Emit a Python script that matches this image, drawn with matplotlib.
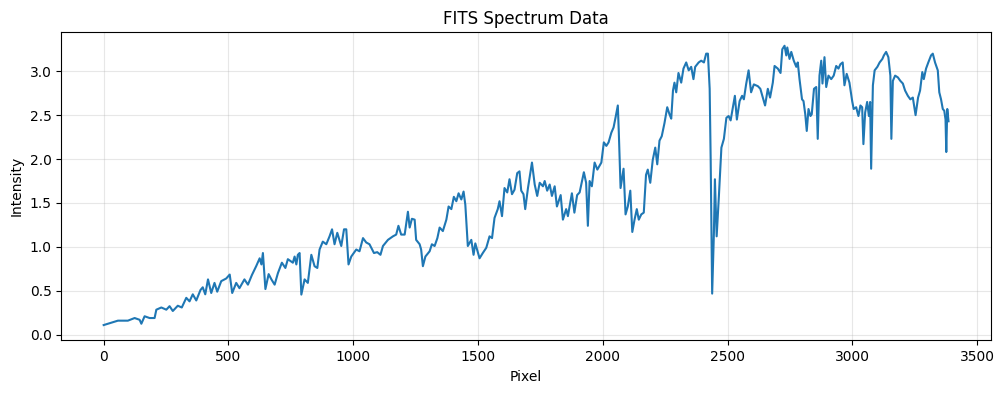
import matplotlib
matplotlib.use("Agg")
import matplotlib.pyplot as plt
import numpy as np

pixel = [0, 57, 97, 124, 144, 151, 164, 184, 204, 211, 231, 251, 264, 277, 297, 313, 331, 344, 357, 371,
         388, 397, 407, 418, 431, 444, 455, 471, 491, 505, 515, 531, 544, 564,
         578, 594, 611, 625, 632, 638, 648, 661, 672, 685, 698, 714, 728, 738, 758, 765, 772, 778, 785,
         792, 805, 818, 832, 845, 856, 865, 878, 892, 905, 915, 925, 936, 952, 963, 972, 981, 992,
         1012, 1025, 1039, 1052, 1065, 1083, 1096, 1109, 1119, 1139, 1159, 1172,
         1181, 1192, 1206, 1219, 1226, 1235, 1246, 1252, 1266, 1272, 1279, 1289, 1306, 1315, 1326, 1337,
         1346, 1359, 1373, 1382, 1393, 1403, 1413, 1422, 1433, 1442, 1449, 1459, 1473, 1482, 1489, 1506,
         1519, 1533, 1546, 1556, 1566, 1579, 1586, 1596, 1606, 1617, 1626, 1636, 1646, 1657, 1666, 1673,
         1682, 1689, 1700, 1716, 1727, 1737, 1747, 1760, 1767,
         1777, 1787, 1796, 1807, 1816, 1831, 1840, 1853, 1860, 1876, 1886, 1897, 1907, 1924, 1933, 1940,
         1947, 1956, 1967, 1978, 1994, 2004, 2014, 2023, 2034, 2043, 2050, 2060, 2064, 2071, 2083, 2091,
         2100, 2110, 2118, 2127, 2136, 2144, 2154, 2164, 2173, 2180, 2190, 2200, 2210, 2218, 2227, 2236,
         2247, 2258, 2267, 2274, 2281,
         2287, 2294, 2303, 2314, 2323, 2334, 2344, 2354, 2363, 2370, 2384, 2394, 2405, 2414, 2421, 2428,
         2432, 2438, 2445, 2449, 2456, 2465, 2475, 2485, 2495, 2504, 2512, 2521, 2529, 2537, 2548, 2558,
         2565, 2574, 2584, 2594, 2605, 2621, 2631, 2641, 2650, 2661, 2670, 2681, 2688, 2701, 2712, 2719,
         2728, 2735, 2739, 2748, 2755, 2765, 2775, 2781, 2788, 2798, 2804, 2811, 2817, 2824, 2832, 2837,
         2846, 2855, 2861, 2868, 2875, 2880, 2888, 2895, 2904, 2915, 2925, 2935, 2944, 2952, 2961, 2968,
         2977, 2988, 2999, 3005, 3015, 3024, 3032, 3039, 3044, 3051, 3059, 3066, 3071, 3075, 3082, 3089,
         3100, 3109, 3120, 3126, 3135, 3144, 3152, 3156, 3162, 3171, 3182, 3192, 3202, 3211, 3222, 3232,
         3242, 3253, 3263, 3271, 3280, 3286, 3295, 3304, 3315, 3322, 3331, 3342, 3348, 3355, 3362, 3368,
         3373, 3376, 3380, 3385]

intensity = [0.11, 0.16, 0.16, 0.19, 0.17, 0.125, 0.21, 0.19, 0.19, 0.285, 0.31, 0.285, 0.325, 0.27, 0.33, 0.31, 0.42, 0.38, 0.46, 0.39,
             0.51, 0.54, 0.46, 0.63, 0.475, 0.59, 0.49, 0.61, 0.64, 0.685, 0.475, 0.59, 0.53, 0.63,
             0.57, 0.68, 0.78, 0.87, 0.80, 0.93, 0.52, 0.69, 0.63, 0.57, 0.70, 0.82, 0.76, 0.86, 0.82, 0.89, 0.80, 0.91, 0.93,
             0.457, 0.63, 0.59, 0.91, 0.78, 0.76, 0.97, 1.06, 1.03, 1.12, 1.20, 1.03, 1.16, 1.01, 1.20, 1.20, 0.80, 0.89,
             0.97, 0.95, 1.10, 1.05, 1.03, 0.93, 0.94, 0.91, 1.01, 1.08, 1.12, 1.14,
             1.24, 1.14, 1.14, 1.40, 1.22, 1.32, 1.31, 1.08, 1.03, 0.97, 0.78, 0.89, 0.95, 1.03, 1.01, 1.10,
             1.22, 1.18, 1.31, 1.46, 1.43, 1.57, 1.52, 1.61, 1.54, 1.63, 1.48, 1.01, 1.08, 0.91, 1.04, 0.87,
             0.93, 0.99, 1.12, 1.10, 1.33, 1.43, 1.52, 1.35, 1.67, 1.62, 1.77, 1.60, 1.65, 1.84, 1.86, 1.64,
             1.60, 1.43, 1.67, 1.96, 1.71, 1.58, 1.73, 1.69, 1.75,
             1.64, 1.71, 1.58, 1.69, 1.46, 1.59, 1.31, 1.43, 1.35, 1.61, 1.39, 1.59, 1.62, 1.85, 1.73, 1.24,
             1.75, 1.69, 1.96, 1.88, 1.96, 2.19, 2.15, 2.19, 2.30, 2.36, 2.46, 2.61, 2.30, 1.67, 1.89, 1.37,
             1.46, 1.64, 1.17, 1.31, 1.43, 1.31, 1.37, 1.39, 1.82, 1.88, 1.73, 1.99, 2.13, 1.94, 2.21, 2.26,
             2.41, 2.59, 2.51, 2.46, 2.78,
             2.87, 2.76, 2.98, 2.87, 3.03, 3.10, 3.01, 3.05, 2.91, 3.05, 3.10, 3.12, 3.10, 3.20, 3.20, 2.80,
             2.00, 0.468, 1.16, 1.77, 1.12, 1.58, 2.13, 2.23, 2.47, 2.49, 2.44, 2.59, 2.72, 2.45, 2.66, 2.72,
             2.68, 2.85, 3.01, 2.76, 2.85, 2.83, 2.80, 2.70, 2.61, 2.80, 2.70, 2.87, 3.06, 3.03, 2.98, 3.25,
             3.29, 3.18, 3.27, 3.14, 3.22, 3.12, 3.05, 3.10, 2.91, 2.68, 2.66, 2.51, 2.32, 2.57, 2.49, 2.51,
             2.80, 2.82, 2.23, 2.95, 3.12, 2.86, 3.16, 2.82, 2.95, 2.91, 2.95, 3.06, 3.03, 3.08, 3.10, 2.84,
             2.97, 2.87, 2.66, 2.57, 2.59, 2.49, 2.61, 2.59, 2.17, 2.53, 2.65, 2.49, 2.65, 1.89, 2.84, 3.01,
             3.05, 3.10, 3.14, 3.18, 3.22, 3.16, 2.95, 2.23, 2.89, 2.95, 2.93, 2.89, 2.86, 2.78, 2.72, 2.68,
             2.70, 2.50, 2.70, 2.78, 2.99, 2.91, 3.03, 3.10, 3.18, 3.20, 3.10, 3.01, 2.76, 2.68, 2.57, 2.55,
             2.45, 2.08, 2.57, 2.43]

fig, ax = plt.subplots(figsize=(10.04, 3.93), dpi=100)
fig.subplots_adjust(left=0.061, right=0.987, top=0.918, bottom=0.134)
ax.plot(pixel, intensity, color="#1f77b4", linewidth=1.5)
ax.set_xlim(-170, 3555)
ax.set_ylim(-0.064, 3.444)
ax.set_title("FITS Spectrum Data")
ax.set_xlabel("Pixel")
ax.set_ylabel("Intensity")
ax.grid(True, alpha=0.3)
fig.savefig("out.png", dpi=100)
